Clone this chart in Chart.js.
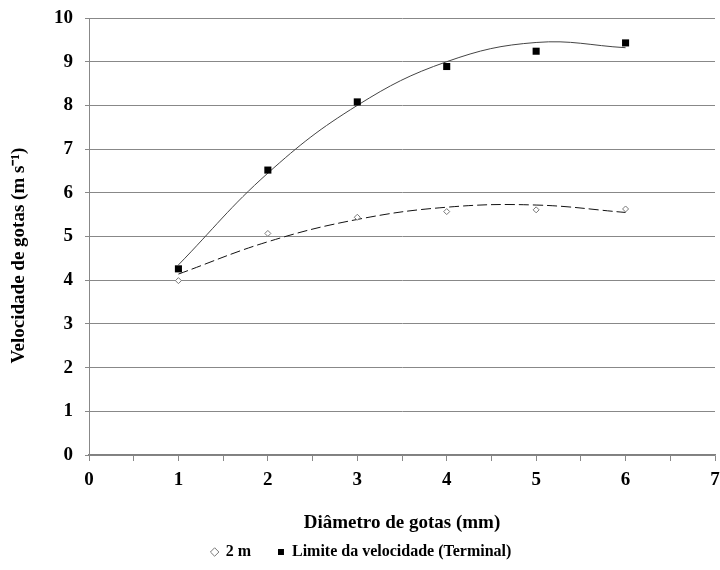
<!DOCTYPE html>
<html>
<head>
<meta charset="utf-8">
<script src="https://cdn.jsdelivr.net/npm/chart.js@4"></script>
<style>
  html, body { margin: 0; padding: 0; background: #fff; }
  #chart { display: block; }
</style>
</head>
<body>
<canvas id="chart" width="720" height="570"></canvas>
<script>
// Droplet diameter (mm) vs. droplet velocity (m s-1)
const diameters = [1, 2, 3, 4, 5, 6];
const speed2m = [3.99, 5.07, 5.44, 5.57, 5.61, 5.63];
const speedTerminal = [4.26, 6.52, 8.08, 8.89, 9.24, 9.43];

// trend curves, at the same diameters
const trend2m = [4.14, 4.88, 5.39, 5.67, 5.72, 5.55];
const trendTerminal = [4.35, 6.45, 8.0, 9.0, 9.44, 9.32];

const xTicks = [0, 1, 2, 3, 4, 5, 6, 7];
const yTicks = [0, 1, 2, 3, 4, 5, 6, 7, 8, 9, 10];

const toPoints = (xs, ys) => xs.map((x, i) => ({ x: x, y: ys[i] }));

const serif = 'Liberation Serif, Times New Roman, serif';
const gridGrey = '#888888';
// trailing spaces nudge the rotated title down a little, as in the original
const yTitle = 'Velocidade de gotas (m s⁻¹)' + '\u00a0'.repeat(8);

const ctx = document.getElementById('chart');
new Chart(ctx, {
    type: 'scatter',
    data: {
        datasets: [
            {
                label: '2 m',
                data: toPoints(diameters, speed2m),
                pointStyle: 'rectRot',
                pointRadius: 3,
                backgroundColor: '#ffffff',
                borderColor: '#777777',
                borderWidth: 1
            },
            {
                label: 'Limite da velocidade (Terminal)',
                data: toPoints(diameters, speedTerminal),
                pointStyle: 'rect',
                pointRadius: 5,
                backgroundColor: '#000000',
                borderColor: '#000000',
                borderWidth: 0
            },
            {
                label: 'trend-2m',
                data: toPoints(diameters, trend2m),
                showLine: true,
                pointRadius: 0,
                borderColor: '#111111',
                borderWidth: 1,
                borderDash: [10, 4],
                tension: 0.4
            },
            {
                label: 'trend-terminal',
                data: toPoints(diameters, trendTerminal),
                showLine: true,
                pointRadius: 0,
                borderColor: '#444444',
                borderWidth: 1,
                tension: 0.4
            }
        ]
    },
    options: {
        responsive: false,
        animation: false,
        layout: { padding: { top: 18, right: 3, left: 6, bottom: 0 } },
        scales: {
            x: {
                type: 'linear',
                min: xTicks[0],
                max: xTicks[xTicks.length - 1],
                afterBuildTicks: scale => {
                    const t = [];
                    for (let v = scale.min; v <= scale.max + 1e-9; v += 0.5) t.push({ value: v });
                    scale.ticks = t;
                },
                afterFit: scale => {
                    scale.paddingRight = 0;
                    scale.paddingLeft = 0;
                    scale.height = 62;
                },
                ticks: {
                    autoSkip: false,
                    maxRotation: 0,
                    padding: 8,
                    color: '#000',
                    font: { family: serif, size: 19, weight: 'bold' },
                    callback: v => (xTicks.includes(v) ? String(v) : '')
                },
                grid: {
                    drawOnChartArea: false,
                    drawTicks: true,
                    tickLength: 6,
                    color: gridGrey
                },
                border: { display: true, color: '#808080', width: 1.5 },
                title: {
                    display: true,
                    text: 'Diâmetro de gotas (mm)',
                    color: '#000',
                    padding: { top: 0, bottom: -17 },
                    font: { family: serif, size: 19, weight: 'bold' }
                }
            },
            y: {
                min: yTicks[0],
                max: yTicks[yTicks.length - 1],
                afterBuildTicks: scale => {
                    scale.ticks = yTicks.map(v => ({ value: v }));
                },
                afterFit: scale => {
                    scale.width = 83;
                    scale.paddingTop = 0;
                    scale.paddingBottom = 0;
                },
                ticks: {
                    padding: 12,
                    color: '#000',
                    font: { family: serif, size: 19, weight: 'bold' }
                },
                grid: {
                    color: gridGrey,
                    tickLength: 4
                },
                border: { display: true, color: gridGrey },
                title: {
                    display: true,
                    text: yTitle,
                    color: '#000',
                    padding: { top: 2, bottom: 0 },
                    font: { family: serif, size: 19, weight: 'bold' }
                }
            }
        },
        plugins: {
            legend: {
                position: 'bottom',
                labels: {
                    filter: item => !item.text.startsWith('trend'),
                    usePointStyle: true,
                    boxWidth: 6,
                    boxHeight: 6,
                    padding: 27,
                    color: '#000',
                    font: { family: serif, size: 16, weight: 'bold' }
                }
            },
            tooltip: { enabled: false }
        }
    }
});
</script>
</body>
</html>
